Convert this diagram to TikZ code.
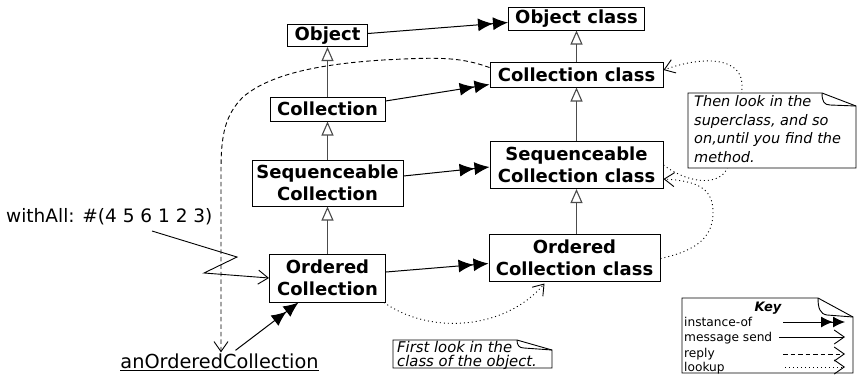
\documentclass[tikz,border=0pt]{standalone}
\usepackage{fontspec}
\setmainfont{DejaVu Sans}
\usetikzlibrary{arrows.meta,calc}
\begin{document}
\begin{tikzpicture}[x=1pt,y=-1pt,
  cls/.style={draw,line width=1pt,inner sep=0pt,align=center,font=\bfseries\fontsize{18}{22}\selectfont},
  inst/.style={line width=1pt,-{Latex[length=15pt,width=13pt]Latex[length=15pt,width=13pt]}},
  inh/.style={draw=black!70,line width=1.1pt,-{Triangle[open,length=14pt,width=12pt,fill=white]}},
  msg/.style={line width=0.9pt,-{Straight Barb[length=10pt,width=14pt]}},
  rep/.style={msg,dash pattern=on 4.5pt off 3pt},
  look/.style={msg,dash pattern=on 1pt off 3pt},
  notebox/.style={draw,fill=white,line width=0.9pt},
  notetext/.style={anchor=north west,align=left,inner sep=0pt,font=\itshape\fontsize{14.5}{18.8}\selectfont},
  keytext/.style={anchor=west,inner sep=0pt,font=\fontsize{12.2}{14}\selectfont},
  plain/.style={font=\fontsize{18.5}{22}\selectfont}]
\useasboundingbox (0,0) rectangle (857,384);

% class boxes
\node[cls,minimum width=80pt,minimum height=22pt] (obj) at (327.5,35.5) {Object};
\node[cls,minimum width=136pt,minimum height=23pt] (objc) at (576.5,18.5) {Object class};
\node[cls,minimum width=173pt,minimum height=25pt] (colc) at (576.5,74.5) {Collection class};
\node[cls,minimum width=115pt,minimum height=24pt] (col) at (327.5,109) {Collection};
\node[cls,minimum width=151pt,minimum height=46pt] (seq) at (327.5,183) {Sequenceable\\Collection};
\node[cls,minimum width=173pt,minimum height=47pt] (seqc) at (576.5,165) {Sequenceable\\Collection class};
\node[cls,minimum width=116pt,minimum height=48pt] (oc) at (327.5,278) {Ordered\\Collection};
\node[cls,minimum width=171pt,minimum height=47pt] (occ) at (574.5,257.5) {Ordered\\Collection class};

% texts
\node[plain,anchor=west,inner sep=0pt] (wa) at (6,217) {withAll: \#(4 5 6 1 2 3)};
\node[plain,inner sep=1pt,font=\fontsize{19.3}{22}\selectfont] (aoc) at (219.5,362) {\underline{anOrderedCollection}};

% inheritance
\draw[inh] (col.north) -- (col.north |- obj.south);
\draw[inh] (seq.north) -- (seq.north |- col.south);
\draw[inh] (oc.north) -- (oc.north |- seq.south);
\draw[inh] (colc.north) -- (colc.north |- objc.south);
\draw[inh] (seqc.north) -- (seqc.north |- colc.south);
\draw[inh] (occ.north -| seqc.south) -- (seqc.south);

% instance-of
\draw[inst] ([yshift=2pt]obj.east) -- ([yshift=-4pt]objc.west);
\draw[inst] ([yshift=8pt]col.east) -- ([yshift=-10pt]colc.west);
\draw[inst] ([yshift=7pt]seq.east) -- ([yshift=-2pt]seqc.west);
\draw[inst] ([yshift=6pt]oc.east) -- ([yshift=-6pt]occ.west);
\draw[inst] ([xshift=16pt,yshift=2pt]aoc.north) -- ([xshift=-29pt]oc.south);

% message send
\coordinate (w0) at (152,231);
\draw[msg] (w0) -- (237,257) -- (204,273) -- (oc.west);

% reply
\draw[rep] ([yshift=7pt]colc.west) .. controls (460,57) and (440,57) .. (383,60)
  .. controls (320,64) and (270,74) .. (243,97)
  .. controls (225,115) and (221,135) .. (221,170) -- ([xshift=1.5pt]aoc.north);

% lookup
\draw[look] ([xshift=-2pt]oc.south east) .. controls (430,335) and (505,330) .. ([xshift=-30pt,yshift=-2pt]occ.south);
\draw[look] ([yshift=-1pt]occ.east) .. controls (700,250) and (713,235) .. (713,212)
  .. controls (713,190) and (700,181) .. ([yshift=-14pt]seqc.east);
\draw[look] (seqc.east) .. controls (690,185) and (722,186) .. (728,166)
  .. controls (736,140) and (742,110) .. (742,85)
  .. controls (742,58) and (705,55) .. ([yshift=4.5pt]colc.east);

% note 1
\filldraw[notebox] (688,93) -- (822,93) -- (856,106) -- (856,168) -- (688,168) -- cycle;
\draw[notebox,fill=none] (822,93) .. controls (822,101) and (824,105) .. (830,105) -- (856,106);
\node[notetext] (n1) at (694,95) {Then look in the\\superclass, and so\\on,until you find the\\method.};

% note 2
\filldraw[notebox] (393,340) -- (517,340) -- (552,350) -- (552,368) -- (393,368) -- cycle;
\draw[notebox,fill=none] (517,340) .. controls (517,345) and (519,348) .. (524,348) -- (552,350);
\node[notetext,font=\itshape\fontsize{14.8}{14}\selectfont] (n2) at (397,341) {First look in the\\class of the object.};

% key
\filldraw[notebox] (682,298) -- (818,298) -- (853,317) -- (853,373) -- (682,373) -- cycle;
\draw[notebox,fill=none] (818,298) .. controls (818,308) and (820,314) .. (827,315) -- (853,317);
\node[font=\bfseries\itshape\fontsize{13}{14}\selectfont,inner sep=0pt] (kt) at (768,308) {Key};
\node[keytext] (k1) at (684,322) {instance-of};
\node[keytext] (k2) at (684,338) {message send};
\node[keytext] (k3) at (684,354) {reply};
\node[keytext] (k4) at (684,368) {lookup};
\coordinate (k1a) at (783,322); \coordinate (k1b) at (845,322);
\coordinate (k2a) at (779,337); \coordinate (k2b) at (845,337);
\coordinate (k3a) at (783,354); \coordinate (k3b) at (845,354);
\coordinate (k4a) at (785,367); \coordinate (k4b) at (845,367);
\draw[line width=1pt,-{Latex[length=12pt,width=11pt]Latex[length=12pt,width=11pt]}] (k1a) -- (k1b);
\draw[msg] (k2a) -- (k2b);
\draw[rep] (k3a) -- (k3b);
\draw[look] (k4a) -- (k4b);
\end{tikzpicture}
\end{document}
